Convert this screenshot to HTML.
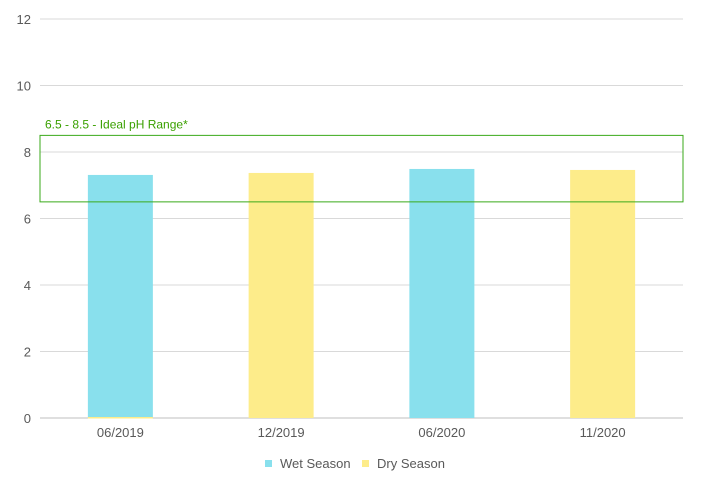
<!DOCTYPE html>
<html><head><meta charset="utf-8"><style>
body{margin:0;background:#fff;font-family:"Liberation Sans",sans-serif;}
svg text{font-family:"Liberation Sans",sans-serif;}
</style></head><body>
<svg id="chart" width="702" height="498"></svg>
<script>
const categories=["06/2019","12/2019","06/2020","11/2020"];
const seriesNames=["Wet Season","Dry Season"];
const wetValues=[7.31,null,7.49,null];
const dryValues=[0.03,7.37,null,7.46];
const yTicks=[0,2,4,6,8,10,12];
const rangeLow=6.5, rangeHigh=8.5;
const rangeLabel="6.5 - 8.5 - Ideal pH Range*";
const colors=["#89e0ed","#fdec8a"];
const NS="http://www.w3.org/2000/svg";
const svg=document.getElementById('chart');
const L=40,R=683,T=19,B=418,yMax=12;
const y=v=>B-(v/yMax)*(B-T);
const bw=(R-L)/categories.length;
const xc=i=>L+bw*(i+0.5);
function mk(t,a){const e=document.createElementNS(NS,t);for(const k in a)e.setAttribute(k,a[k]);svg.appendChild(e);return e;}
yTicks.forEach(t=>{
 const g=mk('line',{x1:L,x2:R,y1:y(t),y2:y(t),stroke:t===0?'#bfbfbf':'#d9d9d9','stroke-width':1});
 
 
 const tx=mk('text',{x:31,y:y(t)+5,'text-anchor':'end','font-size':13,fill:'#595959'});
 tx.textContent=t;
 
 
});
const barW=65;
[wetValues,dryValues].forEach((arr,s)=>{
 arr.forEach((v,i)=>{
  if(v==null)return;
  const top=y(v);
  const r=mk('rect',{x:xc(i)-barW/2,y:top,width:barW,height:Math.max(B-top,1.5),fill:colors[s]});
  
  
 });
});
categories.forEach((c,i)=>{
 const tx=mk('text',{x:xc(i),y:437,'text-anchor':'middle','font-size':13,fill:'#595959'});
 tx.textContent=c;
 
 
});
const box=mk('rect',{x:L,y:y(rangeHigh),width:R-L,height:y(rangeLow)-y(rangeHigh),fill:'none',stroke:'#3aaa1a','stroke-width':1});


const rl=mk('text',{x:45,y:y(rangeHigh)-7,'font-size':12,fill:'#3aa000'});
rl.textContent=rangeLabel;


const lx=[265,362];
seriesNames.forEach((n,s)=>{
 const sq=mk('rect',{x:lx[s],y:460,width:7,height:7,fill:colors[s]});
 
 
 const tx=mk('text',{x:lx[s]+15,y:468,'font-size':13,fill:'#595959'});
 tx.textContent=n;
 
 
});
</script>
</body></html>
